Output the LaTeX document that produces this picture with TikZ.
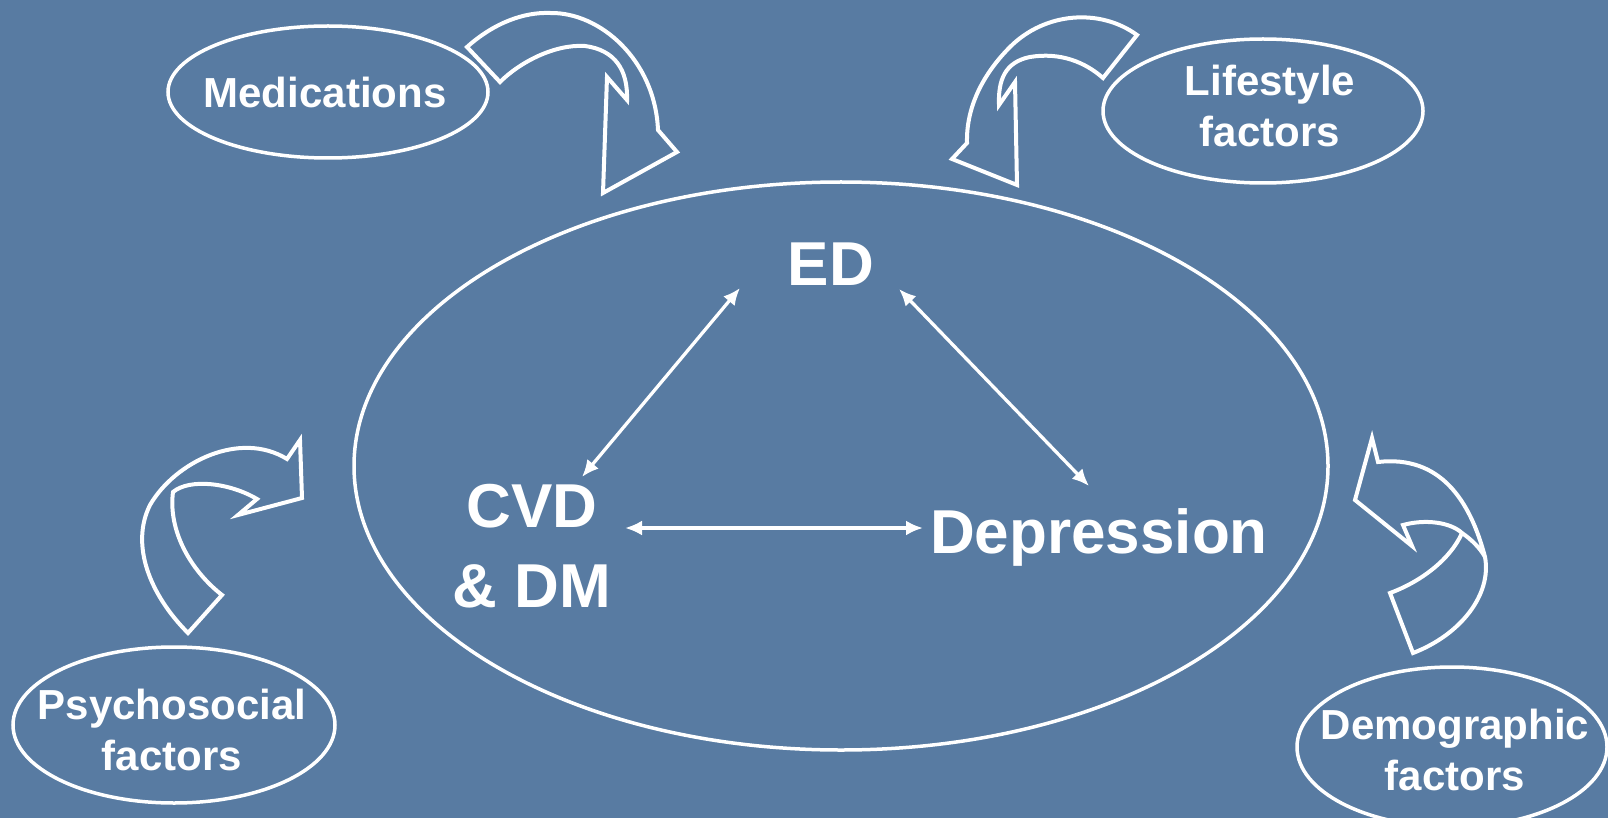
\documentclass[tikz,border=0pt]{standalone}
\usepackage{fontspec}
\setmainfont{Liberation Sans}
\usetikzlibrary{shapes.geometric,arrows.meta}
\definecolor{slateblue}{RGB}{88,123,162}

\begin{document}
\begin{tikzpicture}[x=1pt, y=-1pt,
    oval/.style={draw=white, line width=3.5pt, ellipse, inner sep=0pt},
    bigtxt/.style={text=white, font=\bfseries\fontsize{62}{80}\selectfont, align=center},
    smalltxt/.style={text=white, font=\bfseries\fontsize{42}{51}\selectfont, align=center},
    band/.style={draw=white, line width=4pt, line join=miter},
    dblarrow/.style={white, line width=3.3pt, {Latex[length=17pt,width=15pt]}-{Latex[length=17pt,width=15pt]}}]
  \path[use as bounding box, fill=slateblue] (0,0) rectangle (1608,818);

  \node (core) at (841,466) [oval, minimum width=974pt, minimum height=568pt] {};
  \node (ed) at (831,285) [bigtxt, anchor=base] {ED};
  \node (cvd) at (532,607) [bigtxt, anchor=base] {CVD\\\& DM};
  \node (dep) at (1099,553) [bigtxt, anchor=base] {Depression};

  \coordinate (cvd-top) at (582,477);
  \coordinate (ed-left) at (740,288);
  \coordinate (ed-right) at (899,289);
  \coordinate (dep-top) at (1089,486);
  \coordinate (cvd-right) at (625,528);
  \coordinate (dep-left) at (923,528);
  \draw[dblarrow] (cvd-top) -- (ed-left);
  \draw[dblarrow] (ed-right) -- (dep-top);
  \draw[dblarrow] (cvd-right) -- (dep-left);

  \node (med-oval) at (328,92) [oval, minimum width=320pt, minimum height=132pt] {};
  \node (med) at (325,108) [smalltxt, anchor=base] {Medications};
  \node (life-oval) at (1263,111) [oval, minimum width=320pt, minimum height=144pt] {};
  \node (life) at (1270,147) [smalltxt, anchor=base] {Lifestyle\\factors};
  \node (psy-oval) at (174,725) [oval, minimum width=322pt, minimum height=156pt] {};
  \node (psy) at (172,770) [smalltxt, anchor=base] {Psychosocial\\factors};
  \node (dem-oval) at (1452,747) [oval, minimum width=310pt, minimum height=160pt] {};
  \node (dem) at (1455,790) [smalltxt, anchor=base] {Demographic\\factors};

  \draw[band] (467,47) .. controls (495,22) and (525,12) .. (550,13)
    .. controls (600,12) and (655,60) .. (658,130) -- (677,152) -- (603,193)
    -- (607,77) -- (627,100) .. controls (628,70) and (615,50) .. (585,46)
    .. controls (555,44) and (520,62) .. (500,82) -- cycle;
  \draw[band] (1137,35) .. controls (1100,8) and (1045,12) .. (1010,47)
    .. controls (985,72) and (966,105) .. (967,143) -- (952,159) -- (1017,185)
    -- (1015,82) -- (999,105) .. controls (998,80) and (1005,62) .. (1030,57)
    .. controls (1060,52) and (1085,62) .. (1103,78) -- cycle;
  \draw[band] (188,633) .. controls (150,595) and (130,545) .. (150,505)
    .. controls (175,462) and (240,430) .. (287,459) -- (300,440) -- (302,498)
    -- (238,515) -- (257,499) .. controls (230,483) and (190,478) .. (173,492)
    .. controls (168,530) and (190,570) .. (222,595) -- cycle;
  \draw[band] (1462,533) .. controls (1450,560) and (1420,582) .. (1390,593)
    -- (1413,653) .. controls (1460,635) and (1492,595) .. (1485,557)
    .. controls (1470,500) and (1440,455) .. (1378,462) -- (1372,438)
    -- (1355,500) -- (1412,546) -- (1403,525) .. controls (1425,519) and (1450,522) .. (1462,533)
    .. controls (1472,540) and (1480,548) .. (1485,557);
\end{tikzpicture}
\end{document}
